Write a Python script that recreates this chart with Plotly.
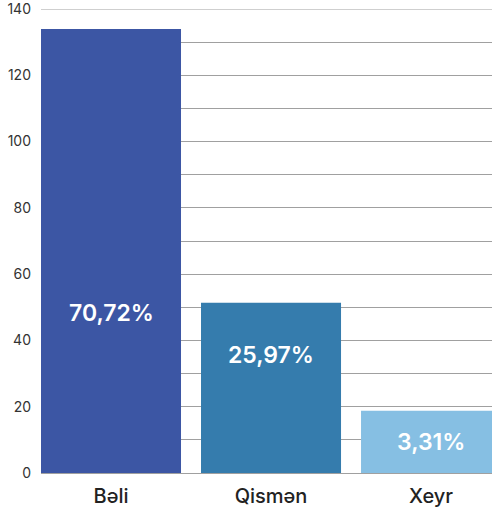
import plotly.graph_objects as go

categories = ["Bəli", "Qismən", "Xeyr"]
values = [134, 51.4, 18.8]
labels = ["70,72%", "25,97%", "3,31%"]
label_y = [48.4, 35.7, 9.4]
colors = ["#3C56A4", "#357CAD", "#86BFE3"]
y_ticks = [0, 20, 40, 60, 80, 100, 120, 140]

fig = go.Figure()
fig.add_trace(go.Bar(
    x=categories, y=values, marker=dict(color=colors, line=dict(width=0)),
    width=0.875, hoverinfo="skip",
))
for c, t, ly in zip(categories, labels, label_y):
    fig.add_annotation(x=c, y=ly, text=t, showarrow=False,
                       font=dict(family="Inter", size=23, color="white", weight=600))

grid = "#a0a0a0"
fig.add_hline(y=y_ticks[-1], line=dict(color=grid, width=1), layer="below")
fig.update_layout(
    width=492, height=507,
    margin=dict(l=41, r=0, t=9, b=34),
    plot_bgcolor="white", paper_bgcolor="white",
    showlegend=False,
    font=dict(family="Inter"),
    xaxis=dict(range=[-0.4375, 2.381], showgrid=False, showline=False, ticks="",
               tickfont=dict(size=20, color="#222222", weight=500),
               ticklabelstandoff=9),
    yaxis=dict(range=[0, 140], tickvals=y_ticks, showgrid=True, gridcolor=grid, gridwidth=1,
               zeroline=True, zerolinecolor=grid, zerolinewidth=1,
               minor=dict(dtick=10, showgrid=True, gridcolor=grid, gridwidth=1),
               ticks="", tickfont=dict(size=14, color="#333333"), ticklabelstandoff=9,
               ticklabeloverflow="allow"),
)
fig.write_html("out.html", config={"displayModeBar": False},
               post_script="document.body.style.margin='0';document.body.style.overflow='hidden';")
